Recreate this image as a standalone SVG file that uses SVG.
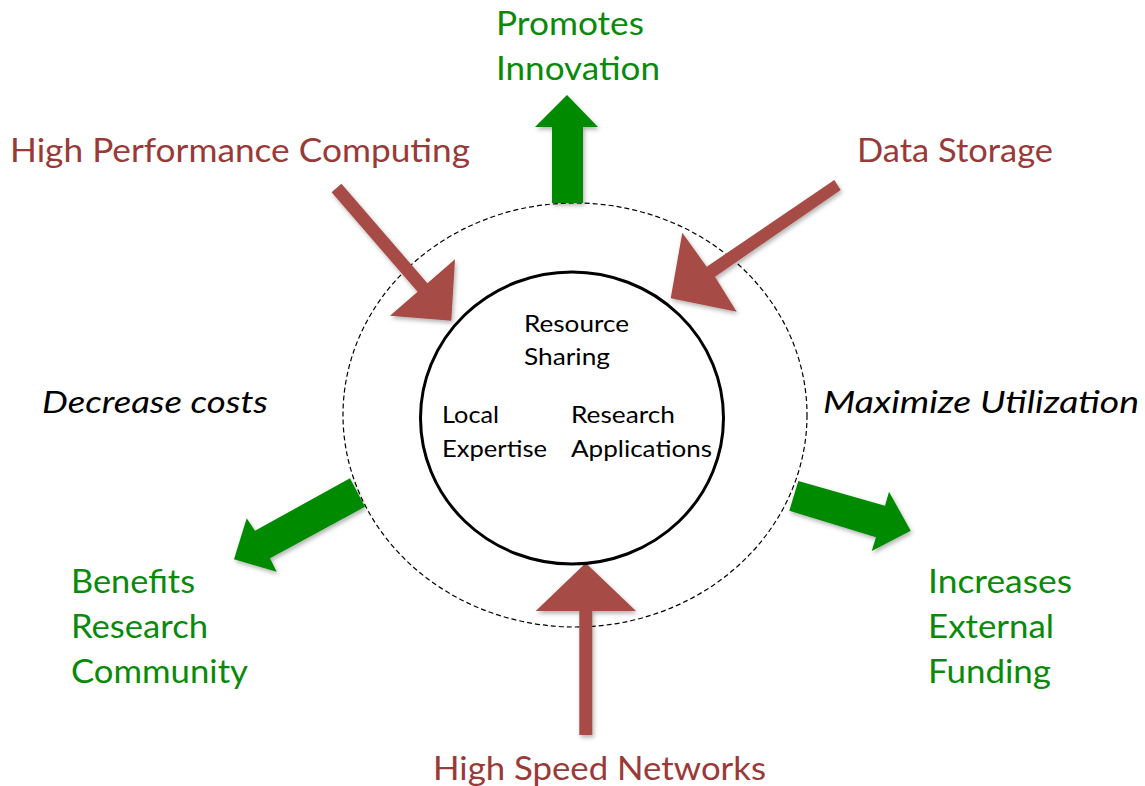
<svg xmlns="http://www.w3.org/2000/svg" width="1145" height="786" viewBox="0 0 1145 786">
  <style>
    text { font-family: Lato, "Open Sans", "Liberation Sans", sans-serif; }
    .big { font-size: 32px; }
    .red { fill: #9A3A38; }
    .green { fill: #0A8A0A; }
    .ital { font-size: 31px; font-style: italic; fill: #000; }
    .inner { font-size: 24px; fill: #000; }
    .arrRed { fill: #A64B45; filter: url(#sh); }
    .arrGreen { fill: #008A00; filter: url(#sh); }
  </style>
  <defs>
    <filter id="sh" x="-20%" y="-20%" width="140%" height="140%">
      <feDropShadow dx="1.5" dy="2.5" stdDeviation="2" flood-color="#000" flood-opacity="0.3"/>
    </filter>
  </defs>
  <rect width="1145" height="786" fill="#fff"/>

  <g id="outer-ring">
    <ellipse cx="575" cy="415" rx="232" ry="212" fill="none" stroke="#000" stroke-width="1.2" stroke-dasharray="5 3"/>
  </g>

  <g id="connectors">
    <polygon class="arrGreen" points="552,203 552,127 535,127 567,95 598,127 583,127 583,203"/>
    <polygon class="arrRed" points="341.4,183.7 331.6,192.3 417.6,291.8 390,315.7 451.3,320.7 455,259.3 427.4,283.2"/>
    <polygon class="arrRed" points="834.3,180 840.7,190 715,276.7 736.7,311.7 670.7,298.3 682.3,232.7 706.7,266.7"/>
    <polygon class="arrGreen" points="350,478.3 365,506.7 270,558.3 276.7,571.7 234,559.3 246.7,518.3 255,530.7"/>
    <polygon class="arrGreen" points="798.3,481 885,505.7 889,491.7 910.7,530.7 871.7,551 876,537.3 789.3,510.7"/>
    <polygon class="arrRed" points="579.3,735 579.3,611 535.7,611 585.7,563 636,611 592.3,611 592.3,735"/>
  </g>

  <g id="core">
    <ellipse cx="572" cy="418" rx="151.5" ry="146" fill="none" stroke="#000" stroke-width="3"/>
    <text class="inner" x="524" y="332" textLength="105" lengthAdjust="spacingAndGlyphs">Resource</text>
    <text class="inner" x="524" y="365" textLength="86" lengthAdjust="spacingAndGlyphs">Sharing</text>
    <text class="inner" x="442" y="423" textLength="57" lengthAdjust="spacingAndGlyphs">Local</text>
    <text class="inner" x="442" y="457" textLength="105" lengthAdjust="spacingAndGlyphs">Expertise</text>
    <text class="inner" x="571" y="423" textLength="104" lengthAdjust="spacingAndGlyphs">Research</text>
    <text class="inner" x="571" y="457" textLength="141" lengthAdjust="spacingAndGlyphs">Applications</text>
  </g>

  <g id="promotes-innovation">
    <text class="big green" x="496" y="35" textLength="148" lengthAdjust="spacingAndGlyphs">Promotes</text>
    <text class="big green" x="496" y="80" textLength="164" lengthAdjust="spacingAndGlyphs">Innovation</text>
  </g>
  <g id="hpc">
    <text class="big red" x="10" y="162" textLength="460" lengthAdjust="spacingAndGlyphs">High Performance Computing</text>
  </g>
  <g id="data-storage">
    <text class="big red" x="857" y="162" textLength="196" lengthAdjust="spacingAndGlyphs">Data Storage</text>
  </g>
  <g id="decrease-costs">
    <text class="ital" x="42" y="413" textLength="226" lengthAdjust="spacingAndGlyphs">Decrease costs</text>
  </g>
  <g id="maximize-utilization">
    <text class="ital" x="823" y="413" textLength="316" lengthAdjust="spacingAndGlyphs">Maximize Utilization</text>
  </g>
  <g id="benefits">
    <text class="big green" x="71" y="593" textLength="124" lengthAdjust="spacingAndGlyphs">Benefits</text>
    <text class="big green" x="71" y="638" textLength="137" lengthAdjust="spacingAndGlyphs">Research</text>
    <text class="big green" x="71" y="683" textLength="177" lengthAdjust="spacingAndGlyphs">Community</text>
  </g>
  <g id="increases">
    <text class="big green" x="928" y="593" textLength="144" lengthAdjust="spacingAndGlyphs">Increases</text>
    <text class="big green" x="928" y="638" textLength="126" lengthAdjust="spacingAndGlyphs">External</text>
    <text class="big green" x="928" y="683" textLength="123" lengthAdjust="spacingAndGlyphs">Funding</text>
  </g>
  <g id="hsn">
    <text class="big red" x="433" y="780" textLength="333" lengthAdjust="spacingAndGlyphs">High Speed Networks</text>
  </g>
</svg>
